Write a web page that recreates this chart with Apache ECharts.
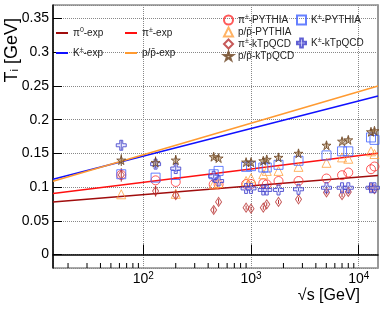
<!DOCTYPE html>
<html><head><meta charset="utf-8">
<script src="https://cdn.jsdelivr.net/npm/echarts@6/dist/echarts.min.js"></script>
<style>html,body{margin:0;padding:0;background:#fff}#c{width:382px;height:312px}</style>
</head><body><div id="c"></div>
<script>
// ---- data ----
const energies   = [62.4, 130, 200, 450, 500, 900, 1000, 1300, 1400, 1800, 2760, 5020, 7000, 8000, 13000, 14000];
const piPythia   = [0.118, 0.110, 0.1076, 0.104, 0.104, 0.1045, 0.1045, 0.1057, 0.104, 0.109, 0.109, 0.1127, 0.1176, 0.1216, 0.1265, 0.1305];
const pPythia    = [0.0893, null, 0.090, 0.104, 0.106, 0.109, 0.113, 0.119, 0.124, 0.124, 0.130, 0.136, 0.144, 0.142, 0.153, 0.149];
const piKtpqcd   = [0.118, 0.094, 0.088, 0.066, 0.078, 0.0695, 0.068, 0.0695, 0.0744, 0.078, 0.0818, 0.092, 0.088, 0.0927, 0.099, 0.097];
const piKtErr    = [0.010, 0.008, 0.006, 0.004, 0.004, 0.003, 0.003, 0.003, 0.003, 0.003, 0.003, 0.003, 0.003, 0.003, 0.003, 0.003];
const pKtpqcd    = [0.140, 0.1365, 0.140, 0.145, 0.143, 0.137, 0.137, 0.139, 0.141, 0.144, 0.150, 0.162, 0.168, 0.170, 0.182, 0.1835];
const pKtErr     = [0.0087, 0.0087, 0.0074, 0.004, 0.004, 0.004, 0.004, 0.004, 0.004, 0.004, 0.004, 0.004, 0.004, 0.004, 0.004, 0.004];
const kPythia    = [0.119, 0.114, 0.118, 0.119, 0.124, 0.130, 0.131, 0.129, 0.129, 0.133, 0.139, 0.147, 0.153, 0.153, 0.1736, 0.170];
const kKtpqcd    = [0.162, 0.134, 0.1275, 0.116, 0.109, 0.098, 0.098, 0.0957, 0.0957, 0.0957, 0.0967, 0.099, 0.099, 0.099, 0.099, 0.099];
const kKtErr     = [0.007, 0.006, 0.005, 0.003, 0.003, 0.003, 0.003, 0.003, 0.003, 0.003, 0.003, 0.003, 0.003, 0.003, 0.003, 0.003];
// exponential-type fits, evaluated at the ends of the sqrt(s) range
const fitEnergies = [14.5, 15100];
const pi0Exp     = [0.0778, 0.117];
const piExp      = [0.0903, 0.150];
const kExp       = [0.1116, 0.235];
const pExp       = [0.1086, 0.250];
const decades    = [10, 100, 1000, 10000];
const minorSteps = [2, 3, 4, 5, 6, 7, 8, 9];
const yTitle = 'T{sub|i} [GeV]';
const xTitle = '√s [GeV]';

// ---- chart ----
const FONT = 'Liberation Sans, Arial, sans-serif';
const Y0 = -0.02, Y1 = 0.37;
const chart = echarts.init(document.getElementById('c'));
const pair = (xs, ys) => xs.map((x, i) => [x, ys[i]]).filter(d => d[1] != null);
const triple = (xs, ys, es) => xs.map((x, i) => [x, ys[i], es[i]]).filter(d => d[1] != null);
const minorTicks = [];
decades.forEach(d => minorSteps.forEach(k => { const v = d * k; if (v > fitEnergies[0] && v < fitEnergies[1]) minorTicks.push([v, Y0]); }));

const STAR = 'path://M50,0 L61,35 L98,35 L68,57 L79,91 L50,70 L21,91 L32,57 L2,35 L39,35 Z';
const CROSS = 'path://M35,0 L65,0 L65,35 L100,35 L100,65 L65,65 L65,100 L35,100 L35,65 L0,65 L0,35 L35,35 Z';

function lineS(name, ys, color) {
  return { type: 'line', name, data: pair(fitEnergies, ys), symbol: 'none', z: 2,
    lineStyle: { color, width: 1.5 }, itemStyle: { color } };
}
function scat(name, ys, symbol, size, stroke, fill, z) {
  return { type: 'scatter', name, data: pair(energies, ys), symbol, symbolSize: size, z: z || 3,
    itemStyle: { color: fill, borderColor: stroke, borderWidth: 1 } };
}
function errS(name, ys, es, color) {
  return { type: 'custom', name: name + ' err', data: triple(energies, ys, es), z: 3,
    renderItem: (p, api) => {
      const a = api.coord([api.value(0), api.value(1) - api.value(2)]);
      const b = api.coord([api.value(0), api.value(1) + api.value(2)]);
      return { type: 'line', shape: { x1: a[0], y1: a[1], x2: b[0], y2: b[1] }, style: { stroke: color, lineWidth: 1 } };
    } };
}
const rich = { sup: { fontSize: 7, padding: [0, 0, 5, 0], fontFamily: FONT, color: '#222' } };
const fmt = n => n.replace('±', '{sup|±}').replace('⁰', '{sup|0}');
function leg(name, left, cy, iw, ih, icon) {
  const o = { data: [name], left, top: cy - 7, orient: 'vertical', padding: 0,
    itemWidth: iw, itemHeight: ih, formatter: fmt,
    textStyle: { fontSize: 10, fontFamily: FONT, color: '#222', rich, height: 14, lineHeight: 14 } };
  if (icon) o.icon = icon;
  return o;
}

const option = {
  animation: false,
  backgroundColor: '#fff',
  grid: { left: 53, right: 4, top: 5, bottom: 44, show: true, borderColor: '#555', borderWidth: 1 },
  xAxis: { type: 'log', logBase: 10, min: fitEnergies[0], max: fitEnergies[1],
    axisLine: { lineStyle: { color: '#000', width: 1.5 } },
    axisTick: { inside: true, length: 10, lineStyle: { color: '#000' } },
    minorTick: { show: false },
    splitLine: { show: true, lineStyle: { color: '#888', type: 'dotted', width: 1 } },
    axisLabel: { showMinLabel: false, showMaxLabel: false, margin: 3, fontSize: 14, fontFamily: FONT, color: '#000',
      formatter: v => '10{sup|' + Math.round(Math.log10(v)) + '}',
      rich: { sup: { fontSize: 10, padding: [0, 0, 7, 0], fontFamily: FONT, color: '#000' } } } },
  yAxis: [{ type: 'value', min: Y0, max: Y1, splitNumber: 8,
    axisLine: { lineStyle: { color: '#000', width: 1.5 } },
    axisTick: { inside: true, length: 9, lineStyle: { color: '#000' } },
    splitLine: { show: true, lineStyle: { color: '#888', type: 'dotted', width: 1 } },
    axisLabel: { showMinLabel: false, showMaxLabel: false, margin: 4, fontSize: 14, fontFamily: FONT, color: '#000' } },
    { type: 'value', min: Y0, max: Y1, position: 'right', axisLine: { show: true, lineStyle: { color: '#999', width: 2 } },
      axisTick: { show: false }, axisLabel: { show: false }, splitLine: { show: false } }],
  title: { text: xTitle, right: 22, top: 288, padding: 0,
    textStyle: { fontSize: 16, fontWeight: 'normal', fontFamily: FONT, color: '#000' } },
  graphic: [{ type: 'text', x: 12, y: 18, rotation: Math.PI / 2,
    style: { text: yTitle, fontSize: 18, fontFamily: FONT, fill: '#000', align: 'right', verticalAlign: 'middle',
      rich: { sub: { fontSize: 11, padding: [6, 0, 0, 0], fontFamily: FONT } } } }],
  legend: [
    leg('π⁰-exp', 56, 33, 12, 2, 'rect'), leg('K±-exp', 56, 53, 12, 2, 'rect'),
    leg('π±-exp', 125, 33, 12, 2, 'rect'), leg('p/p\u0304-exp', 125, 53, 12, 2, 'rect'),
    leg('π±-PYTHIA', 223, 20, 9, 9), leg('p/p\u0304-PYTHIA', 223, 32, 9, 9),
    leg('π±-kTpQCD', 223, 44, 9, 9), leg('p/p\u0304-kTpQCD', 223, 56, 9, 9),
    leg('K±-PYTHIA', 296, 20, 9, 9), leg('K±-kTpQCD', 296, 43, 9, 9)
  ],
  series: [
    { type: 'custom', name: 'minor ticks', data: minorTicks, z: 5, clip: false, silent: true,
      renderItem: (p, api) => {
        const a = api.coord([api.value(0), api.value(1)]);
        return { type: 'line', shape: { x1: a[0], y1: a[1], x2: a[0], y2: a[1] - 5 }, style: { stroke: '#000', lineWidth: 1 } };
      } },
    lineS('π⁰-exp', pi0Exp, '#a00d0d'),
    lineS('π±-exp', piExp, '#ff1010'),
    lineS('K±-exp', kExp, '#1010ff'),
    lineS('p/p\u0304-exp', pExp, '#ff9a30'),
    errS('π±-kTpQCD', piKtpqcd, piKtErr, '#b83030'),
    errS('p/p\u0304-kTpQCD', pKtpqcd, pKtErr, '#6b4a2a'),
    errS('K±-kTpQCD', kKtpqcd, kKtErr, '#3030b0'),
    scat('π±-PYTHIA', piPythia, 'circle', 9, '#ff3030', 'rgba(255,255,255,0)'),
    scat('p/p\u0304-PYTHIA', pPythia, 'triangle', 9, '#ffa040', 'rgba(255,255,255,0)'),
    scat('π±-kTpQCD', piKtpqcd, 'diamond', [6, 9], '#b83030', 'rgba(255,255,255,0)'),
    scat('K±-PYTHIA', kPythia, 'rect', 9, '#4060ff', 'rgba(255,255,255,0)'),
    scat('K±-kTpQCD', kKtpqcd, CROSS, 10, '#3a3ac8', 'rgba(200,200,255,0.4)'),
    scat('p/p\u0304-kTpQCD', pKtpqcd, STAR, 9, '#6b4420', 'rgba(160,120,74,0.6)', 4)
  ]
};
chart.setOption(option);
</script></body></html>
